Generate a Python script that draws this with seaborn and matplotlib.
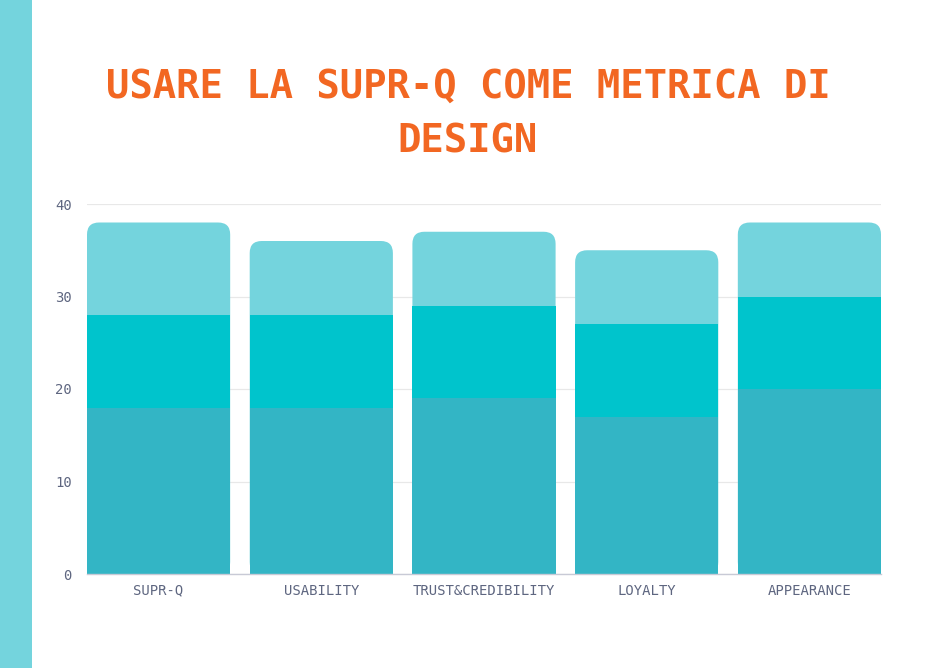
import matplotlib
matplotlib.use("Agg")
import matplotlib.pyplot as plt
from matplotlib.patches import FancyBboxPatch, Rectangle
import seaborn as sns
import pandas as pd

categories = ["SUPR-Q", "USABILITY", "TRUST&CREDIBILITY", "LOYALTY", "APPEARANCE"]
bottom_vals = [18, 18, 19, 17, 20]
middle_vals = [10, 10, 10, 10, 10]
top_vals = [10, 8, 8, 8, 8]
yticks = [0, 10, 20, 30, 40]
title = "USARE LA SUPR-Q COME METRICA DI\nDESIGN"

c_bottom = "#33B5C5"
c_middle = "#00C4CC"
c_top = "#74D4DD"

df = pd.DataFrame({
    "cat": categories,
    "b": bottom_vals,
    "m": [b + m for b, m in zip(bottom_vals, middle_vals)],
    "t": [b + m + t for b, m, t in zip(bottom_vals, middle_vals, top_vals)],
})

sns.set_style("white")
plt.rcParams["font.family"] = ["DejaVu Sans Mono", "DejaVu Sans"]

fig = plt.figure(figsize=(9.36, 6.68), dpi=100)
ax = fig.add_axes([87 / 936, 94 / 668, 794 / 936, 370 / 668])

width = 0.88
sns.barplot(data=df, x="cat", y="t", color=c_top, width=width, linewidth=0,
            saturation=1, ax=ax, zorder=2)
# replace top bars with rounded boxes
r = 0.074
aspect = (12 / 9.25) / r
for p in list(ax.patches):
    x, y = p.get_x(), p.get_y()
    w, h = p.get_width(), p.get_height()
    p.remove()
    fb = FancyBboxPatch((x, y), w, h, boxstyle=f"round,pad=0,rounding_size={r}",
                        mutation_aspect=aspect, facecolor=c_top, edgecolor="none",
                        linewidth=0, zorder=2)
    ax.add_patch(fb)

sns.barplot(data=df, x="cat", y="m", color=c_middle, width=width, linewidth=0,
            saturation=1, ax=ax, zorder=3)
sns.barplot(data=df, x="cat", y="b", color=c_bottom, width=width, linewidth=0,
            saturation=1, ax=ax, zorder=4)

ax.set_xlim(-width / 2, len(categories) - 1 + width / 2)
ax.set_ylim(0, 40)
ax.set_yticks(yticks)
ax.set_xlabel("")
ax.set_ylabel("")
ax.grid(axis="y", color="#E8E8E8", linewidth=0.9, zorder=0)
ax.set_axisbelow(True)
for s in ["top", "right", "left"]:
    ax.spines[s].set_visible(False)
ax.spines["bottom"].set_color("#C8CAD6")
ax.spines["bottom"].set_linewidth(1.0)
ax.spines["bottom"].set_zorder(5)
ax.tick_params(axis="y", length=0, pad=11, labelsize=10, labelcolor="#5E6680")
ax.tick_params(axis="x", length=0, pad=7, labelsize=10, labelcolor="#5E6680")

fig.patches.append(Rectangle((0, 0), 32 / 936, 1, transform=fig.transFigure,
                             facecolor=c_top, edgecolor="none", zorder=0))
fig.text(468 / 936, 1 - 114 / 668, title, ha="center", va="center",
         fontsize=28, fontweight="bold", color="#F26722", linespacing=1.55,
         family=["DejaVu Sans Mono", "DejaVu Sans"])

fig.savefig("out.png", dpi=100, facecolor="white")
